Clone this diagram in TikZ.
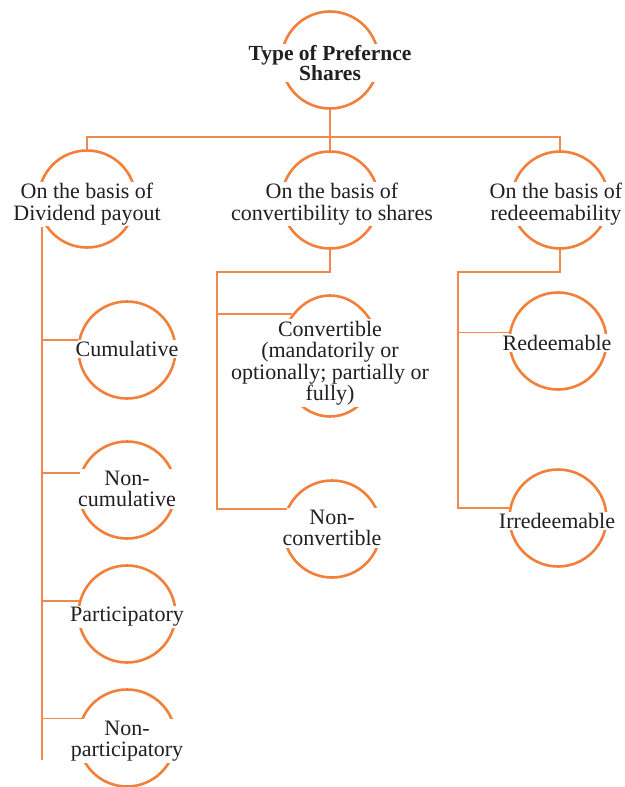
\documentclass[tikz,border=0pt]{standalone}
\usepackage{fontspec}
\setmainfont{Liberation Serif}
\usetikzlibrary{shapes.geometric}
\definecolor{ringc}{RGB}{242,128,58}
\definecolor{wirec}{RGB}{243,136,78}
\definecolor{inkc}{RGB}{35,31,32}
\begin{document}
\begin{tikzpicture}[x=1pt,y=-1pt,
  ring/.style={circle,draw=ringc,line width=2.6pt,minimum size=97pt,inner sep=0pt},
  oval/.style={ellipse,draw=ringc,line width=2.6pt,minimum width=100pt,minimum height=121pt,inner sep=0pt},
  txt/.style={fill=white,text=inkc,align=center,inner sep=1.5pt,font=\fontsize{22}{21.5}\selectfont},
  wire/.style={draw=wirec,line width=1.7pt}]
\useasboundingbox (0,0) rectangle (624,787);

% rings
\node[ring] (top)  at (330,60)  {};
\node[ring] (div)  at (87,199)  {};
\node[ring] (cvb)  at (330,200) {};
\node[ring] (red)  at (560,200) {};
\node[ring] (cum)  at (127,350) {};
\node[ring] (ncum) at (127,490) {};
\node[ring] (par)  at (127,614) {};
\node[ring] (npar) at (127,738) {};
\node[oval] (cv)   at (330,356) {};
\node[ring] (ncv)  at (332,529) {};
\node[ring] (rd)   at (558,341) {};
\node[ring] (ird)  at (558,518) {};

% labels, set over the rings
\node[txt,font=\fontsize{21.5}{20.5}\selectfont\bfseries] (topt) at (330,63) {Type of Prefernce\\Shares};
\node[txt] (divt)  at (87,204)  {On the basis of\\Dividend payout};
\node[txt] (cvbt)  at (332,204) {On the basis of\\convertibility to shares};
\node[txt] (redt)  at (556,204) {On the basis of\\redeeemability};
\node[txt] (cumt)  at (127,349) {Cumulative};
\node[txt] (ncumt) at (127,489) {Non-\\cumulative};
\node[txt] (part)  at (127,617) {Participatory};
\node[txt] (npart) at (127,741) {Non-\\participatory};
\node[txt] (cvt)   at (330,363) {Convertible\\(mandatorily or\\optionally; partially or\\fully)};
\node[txt] (ncvt)  at (332,528) {Non-\\convertible};
\node[txt] (rdt)   at (557,343) {Redeemable};
\node[txt] (irdt)  at (557,521) {Irredeemable};

% junction points of the tree
\coordinate (bar) at (330,137);
\coordinate (lend) at (42,760);
\coordinate (mcorner) at (217,272);
\coordinate (rcorner) at (458,272);

% connectors
\draw[wire] (top.south) -- (cvb.north);
\draw[wire] (div.north) |- (bar) -| (red.north);
\draw[wire] (divt.south -| lend) -- (lend);
\draw[wire] (cum.168)  -- (cum.168 -| lend);
\draw[wire] (ncum.160) -- (ncum.160 -| lend);
\draw[wire] (par.165)  -- (par.165 -| lend);
\draw[wire] (npar.157) -- (npar.157 -| lend);
\draw[wire] (cvb.south) |- (mcorner) -- (mcorner |- ncv.156) -- (ncv.156);
\draw[wire] (cv.132) -- (cv.132 -| mcorner);
\draw[wire] (red.south) |- (rcorner) -- (rcorner |- ird.168) -- (ird.168);
\draw[wire] (rd.170) -- (rd.170 -| rcorner);
\end{tikzpicture}
\end{document}
